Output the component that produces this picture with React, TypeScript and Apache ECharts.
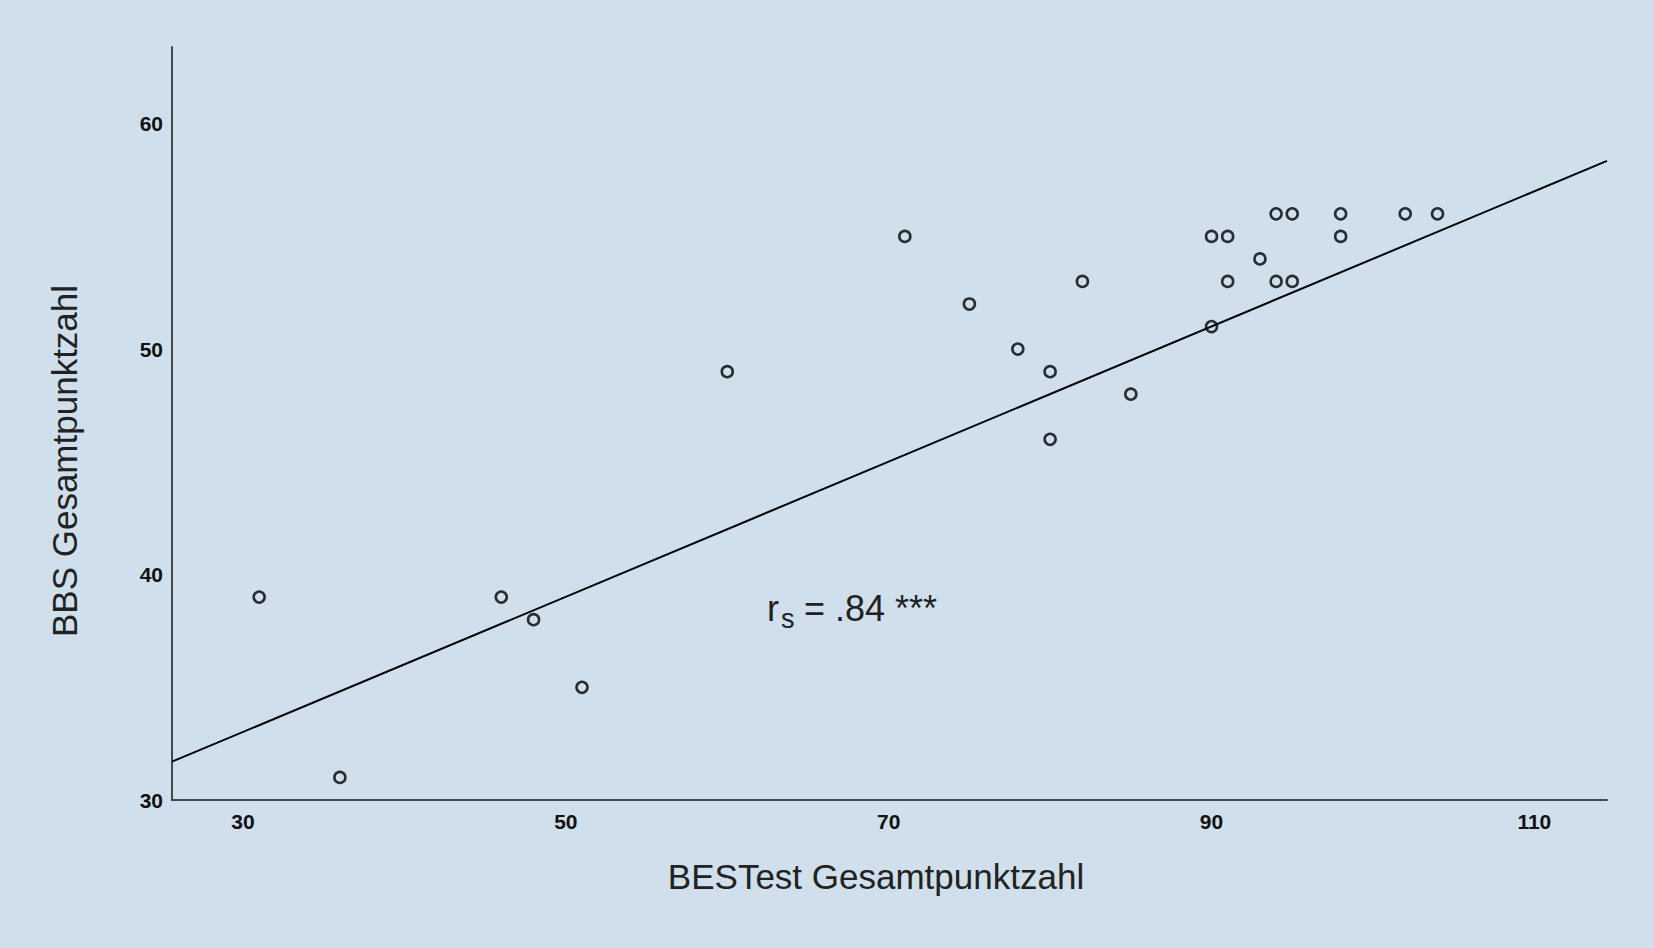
import React, { useEffect, useRef } from "react";
import * as echarts from "echarts";

// BESTest total score (x) vs BBS total score (y)
const bestestScores: number[] = [31, 36, 46, 48, 51, 60, 71, 75, 78, 80, 80, 82, 85, 90, 91, 90, 91, 93, 94, 95, 94, 95, 98, 98, 102, 104];
const bbsScores: number[] = [39, 31, 39, 38, 35, 49, 55, 52, 50, 49, 46, 53, 48, 55, 55, 51, 53, 54, 56, 56, 53, 53, 56, 55, 56, 56];

// fitted line endpoints
const fitX: number[] = [25.6, 114.5];
const fitY: number[] = [31.7, 58.35];

const xTicks: number[] = [30, 50, 70, 90, 110];
const yTicks: number[] = [30, 40, 50, 60];

const xTitle = "BESTest Gesamtpunktzahl";
const yTitle = "BBS Gesamtpunktzahl";
const corrMain = "r";
const corrSub = "s";
const corrRest = "= .84 ***";

const FONT = "'Liberation Sans', Arial, Helvetica, sans-serif";

export default function App() {
  const ref = useRef<HTMLDivElement>(null);
  useEffect(() => {
    if (!ref.current) return;
    document.body.style.margin = "0";
    const chart = echarts.init(ref.current, undefined, { renderer: "svg" });
    const points = bestestScores.map((x, i) => [x, bbsScores[i]]);
    const fit = fitX.map((x, i) => [x, fitY[i]]);
    chart.setOption({
      animation: false,
      backgroundColor: "#cfe0ec",
      textStyle: { fontFamily: FONT },
      grid: { left: 172, right: 47, top: 47, bottom: 148, containLabel: false },
      xAxis: {
        type: "value",
        min: 25.6,
        max: 114.5,
        axisLine: { show: true, onZero: false, lineStyle: { color: "#43484d", width: 2 } },
        axisTick: { show: false },
        splitLine: { show: false },
        axisLabel: {
          customValues: xTicks,
          margin: 11,
          fontSize: 21,
          fontWeight: "bold",
          color: "#111",
          fontFamily: FONT,
        },
      },
      yAxis: {
        type: "value",
        min: 30,
        max: 63.4,
        axisLine: { show: true, onZero: false, lineStyle: { color: "#43484d", width: 2 } },
        axisTick: { show: false },
        splitLine: { show: false },
        axisLabel: {
          customValues: yTicks,
          margin: 9,
          fontSize: 21,
          fontWeight: "bold",
          color: "#111",
          fontFamily: FONT,
        },
      },
      series: [
        {
          type: "line",
          data: fit,
          symbol: "none",
          lineStyle: { color: "#000", width: 2 },
          silent: true,
          z: 2,
        },
        {
          type: "scatter",
          data: points,
          symbol: "circle",
          symbolSize: 11,
          itemStyle: { color: "rgba(0,0,0,0)", borderColor: "#000", borderWidth: 2.6 },
          z: 3,
        },
      ],
      graphic: [
        {
          type: "text",
          x: 876,
          y: 876,
          style: {
            text: xTitle,
            fontSize: 35,
            fontFamily: FONT,
            fill: "#222",
            align: "center",
            verticalAlign: "middle",
          },
        },
        {
          type: "text",
          x: 64,
          y: 461,
          rotation: Math.PI / 2,
          style: {
            text: yTitle,
            fontSize: 35,
            fontFamily: FONT,
            fill: "#222",
            align: "center",
            verticalAlign: "middle",
          },
        },
        {
          type: "text",
          x: 767,
          y: 608,
          style: {
            text: corrMain,
            fontSize: 36,
            fontFamily: FONT,
            fill: "#222",
            align: "left",
            verticalAlign: "middle",
          },
        },
        {
          type: "text",
          x: 781,
          y: 619,
          style: {
            text: corrSub,
            fontSize: 27,
            fontFamily: FONT,
            fill: "#222",
            align: "left",
            verticalAlign: "middle",
          },
        },
        {
          type: "text",
          x: 804,
          y: 608,
          style: {
            text: corrRest,
            fontSize: 36,
            fontFamily: FONT,
            fill: "#222",
            align: "left",
            verticalAlign: "middle",
          },
        },
      ],
    });
    return () => chart.dispose();
  }, []);
  return (
    <div
      ref={ref}
      style={{ position: "fixed", left: 0, top: 0, width: 1654, height: 948, background: "#cfe0ec" }}
    />
  );
}
